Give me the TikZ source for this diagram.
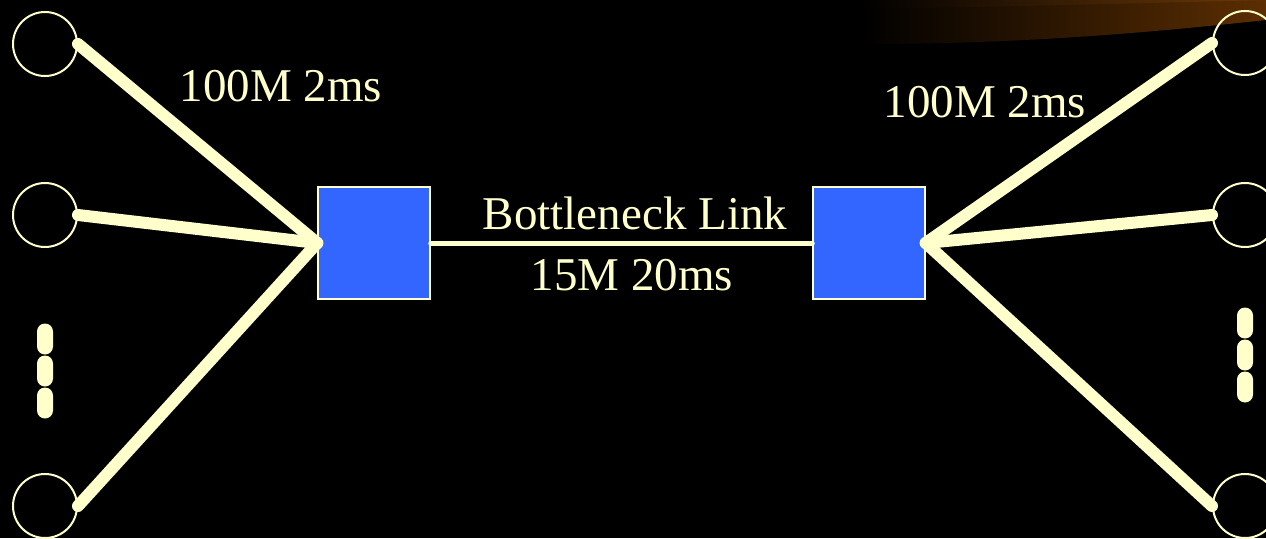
\documentclass[tikz,border=0pt]{standalone}
\usepackage{fontspec}
\setmainfont{Liberation Serif}
\definecolor{ink}{HTML}{FFFFCC}
\definecolor{boxblue}{HTML}{3366FF}
\definecolor{swoosh}{RGB}{92,46,2}
\definecolor{swooshtop}{RGB}{110,58,8}
\begin{document}
\begin{tikzpicture}[x=1pt,y=-1pt,
  host/.style={circle,draw=ink,line width=2pt,minimum size=64pt,inner sep=0pt},
  router/.style={rectangle,draw=ink,line width=1.5pt,fill=boxblue,minimum size=112pt,inner sep=0pt},
  access/.style={draw=ink,line width=12pt,line cap=round},
  bottle/.style={draw=ink,line width=5pt,line cap=round},
  pill/.style={rectangle,rounded corners=8pt,fill=ink,minimum width=16pt,minimum height=31pt,inner sep=0pt},
  lbl/.style={text=ink,font=\fontsize{47}{56}\selectfont,anchor=base,inner sep=0pt}]
\fill[black] (0,0) rectangle (1266,538);
\useasboundingbox (0,0) rectangle (1266,538);
% swoosh
\shade[left color=black,right color=swoosh] (860,0) -- (1266,0) -- (1266,20) .. controls (1120,36) and (1000,44) .. (860,44) -- cycle;
\shade[left color=black,right color=swooshtop] (860,0) -- (1266,0) .. controls (1150,3) and (1000,7) .. (860,9) -- cycle;
% hosts
\node[host] (l1) at (45,44) {};
\node[host] (l2) at (45,215) {};
\node[host] (l3) at (45,506) {};
\node[host] (r1) at (1245,43) {};
\node[host] (r2) at (1245,215) {};
\node[host] (r3) at (1245,506) {};
% routers
\node[router] (ra) at (374,243) {};
\node[router] (rb) at (869,243) {};
% links
\draw[access] (l1.east) -- (ra.west);
\draw[access] (l2.east) -- (ra.west);
\draw[access] (l3.east) -- (ra.west);
\draw[access] (rb.east) -- (r1.west);
\draw[access] (rb.east) -- (r2.west);
\draw[access] (rb.east) -- (r3.west);
\draw[bottle] (ra.east) -- (rb.east -| rb.west);
% ellipsis pills
\node[pill] (ld1) at (45,339) {};
\node[pill] (ld2) at (45,371) {};
\node[pill] (ld3) at (45,403) {};
\node[pill] (rd1) at (1245,323) {};
\node[pill] (rd2) at (1245,355) {};
\node[pill] (rd3) at (1245,387) {};
% labels
\node[lbl] (t1) at (281,101) {100M 2ms};
\node[lbl] (t2) at (985,117) {100M 2ms};
\node[lbl] (t3) at (635,229) {Bottleneck Link};
\node[lbl] (t4) at (632,290) {15M 20ms};
\end{tikzpicture}
\end{document}
